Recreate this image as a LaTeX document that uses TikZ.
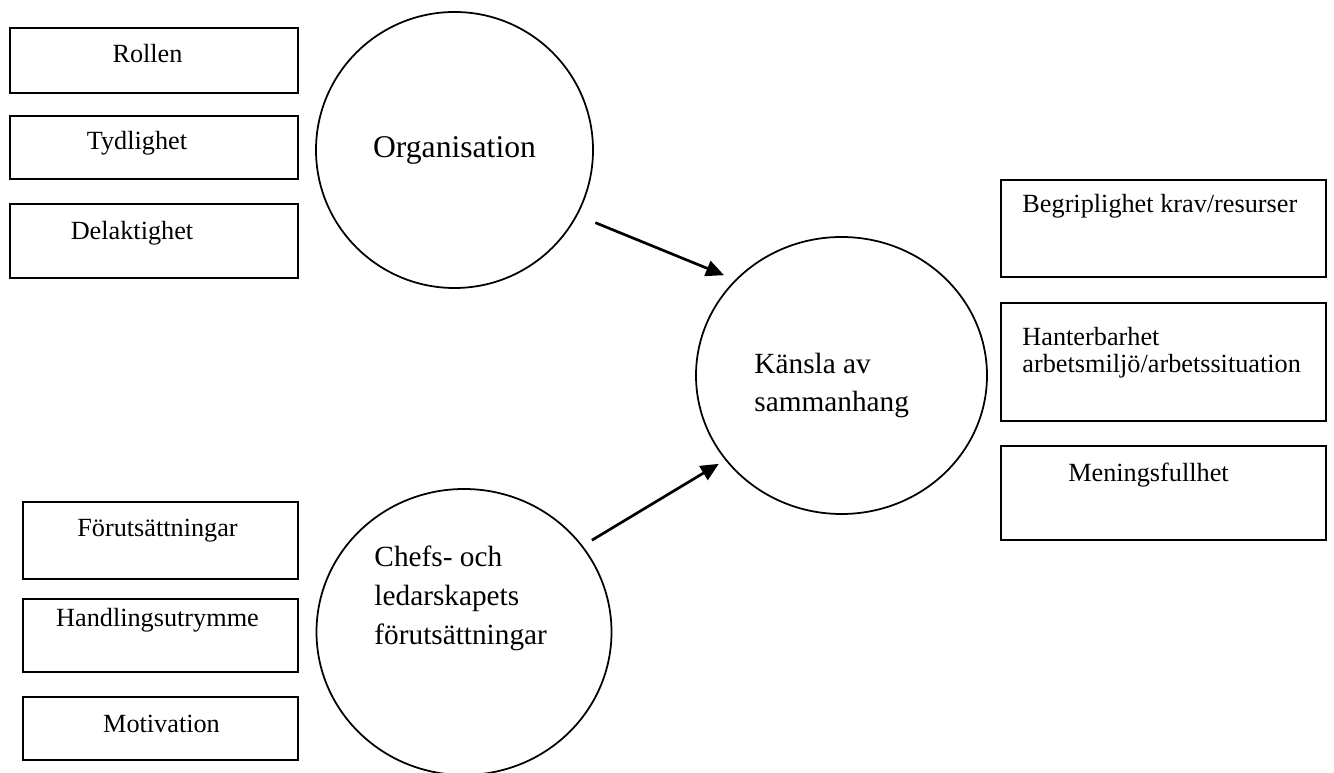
\documentclass[tikz,border=0pt]{standalone}
\usepackage{fontspec}
\setmainfont{Liberation Serif}
\usetikzlibrary{arrows.meta,shapes.geometric}

\begin{document}
\begin{tikzpicture}[x=0.015cm, y=-0.015cm,
    ruta/.style={draw, rectangle, line width=0.85pt, inner sep=0pt},
    boll/.style={draw, ellipse, line width=0.75pt, inner sep=0pt},
    txt/.style={inner sep=0pt, font=\fontsize{11.2}{11.9}\selectfont},
    rubrik/.style={inner sep=0pt, align=left, font=\fontsize{12.5}{16.6}\selectfont},
    pil/.style={-{Triangle[length=0.27cm,width=0.24cm]}, line width=1.15pt}]
    \useasboundingbox (0,0) rectangle (1334,773);

    \node[ruta, minimum width=4.32cm, minimum height=0.975cm] (rollen) at (154,60.5) {};
    \node[ruta, minimum width=4.32cm, minimum height=0.945cm] (tydl) at (154,147.5) {};
    \node[ruta, minimum width=4.32cm, minimum height=1.11cm] (delakt) at (154,241) {};
    \node[txt, anchor=base] (rollen-t) at (147.5,63) {Rollen};
    \node[txt, anchor=base] (tydl-t) at (137,150) {Tydlighet};
    \node[txt, anchor=base] (delakt-t) at (132,240) {Delaktighet};

    \node[ruta, minimum width=4.125cm, minimum height=1.155cm] (forut) at (160.5,540.5) {};
    \node[ruta, minimum width=4.125cm, minimum height=1.095cm] (handl) at (160.5,635.5) {};
    \node[ruta, minimum width=4.125cm, minimum height=0.945cm] (motiv) at (160.5,728.5) {};
    \node[txt, anchor=base] (forut-t) at (157.5,537) {Förutsättningar};
    \node[txt, anchor=base] (handl-t) at (157.5,627) {Handlingsutrymme};
    \node[txt, anchor=base] (motiv-t) at (161.5,732) {Motivation};

    \node[ruta, minimum width=4.875cm, minimum height=1.455cm] (begr) at (1163.5,228.5) {};
    \node[ruta, minimum width=4.875cm, minimum height=1.77cm] (hant) at (1163.5,362) {};
    \node[ruta, minimum width=4.875cm, minimum height=1.41cm] (mening) at (1163.5,493) {};
    \node[txt, anchor=base west] (begr-t) at (1022,213) {Begriplighet krav/resurser};
    \node[txt, anchor=base west, align=left] (hant-t) at (1022,373) {Hanterbarhet\\arbetsmiljö/arbetssituation};
    \node[txt, anchor=base] (mening-t) at (1148.5,482) {Meningsfullhet};

    \node[boll, minimum width=4.155cm, minimum height=4.14cm, font=\fontsize{13.5}{16}\selectfont] (org) at (454.5,150) {Organisation};
    \node[boll, minimum width=4.425cm, minimum height=4.29cm] (chefs) at (464,632) {};
    \node[boll, minimum width=4.365cm, minimum height=4.155cm] (kansla) at (841.5,375.5) {};
    \node[rubrik, anchor=base west] (chefs-t) at (374,644) {Chefs- och\\ledarskapets\\förutsättningar};
    \node[rubrik, anchor=base west] (kansla-t) at (754,412) {Känsla av\\sammanhang};

    \draw[pil, shorten <=0.29cm, shorten >=0.18cm] (org.-28.6) -- (kansla.138.2);
    \draw[pil, shorten <=0.16cm, shorten >=0.11cm] (chefs.36.9) -- (kansla.216.4);
\end{tikzpicture}
\end{document}
